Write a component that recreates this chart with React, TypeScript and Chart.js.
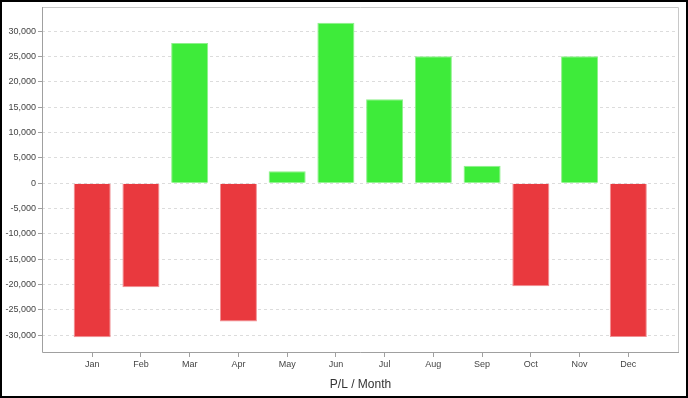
import React, { useEffect, useRef } from "react";
import { Chart, registerables } from "chart.js";

Chart.register(...registerables);

const months = ["Jan", "Feb", "Mar", "Apr", "May", "Jun", "Jul", "Aug", "Sep", "Oct", "Nov", "Dec"];
const profitLoss = [-30400, -20500, 27700, -27300, 2400, 31700, 16600, 25100, 3450, -20300, 25100, -30350];
const yTickValues = [-30000, -25000, -20000, -15000, -10000, -5000, 0, 5000, 10000, 15000, 20000, 25000, 30000];
const axisTitle = "P/L / Month";

const GREEN = "#3eeb3a";
const GREEN_EDGE = "#8ef08b";
const RED = "#e9393e";
const RED_EDGE = "#f08f92";

const plotFrame = {
  id: "plotFrame",
  afterDraw(chart: any) {
    const { ctx, chartArea } = chart;
    const { left, top, right, bottom } = chartArea;
    ctx.save();
    ctx.lineWidth = 1;
    ctx.strokeStyle = "#c8c8c8";
    ctx.beginPath();
    ctx.moveTo(left, top + 0.5);
    ctx.lineTo(right - 0.5, top + 0.5);
    ctx.lineTo(right - 0.5, bottom);
    ctx.stroke();
    ctx.strokeStyle = "#a0a0a0";
    ctx.beginPath();
    ctx.moveTo(left + 0.5, top);
    ctx.lineTo(left + 0.5, bottom - 0.5);
    ctx.lineTo(right, bottom - 0.5);
    ctx.stroke();
    ctx.restore();
  },
};

export default function App() {
  const ref = useRef<HTMLCanvasElement>(null);

  useEffect(() => {
    document.body.style.margin = "0";
    const canvas = ref.current;
    if (!canvas) return;
    const font = "'Liberation Sans', Arial, sans-serif";
    const chart = new Chart(canvas, {
      type: "bar",
      data: {
        datasets: [
          {
            data: profitLoss.map((v, i) => ({ x: i, y: v })),
            backgroundColor: profitLoss.map((v) => (v >= 0 ? GREEN : RED)),
            borderColor: profitLoss.map((v) => (v >= 0 ? GREEN_EDGE : RED_EDGE)),
            borderWidth: 1,
            borderSkipped: "start",
            barPercentage: 0.76,
            categoryPercentage: 1,
          },
        ],
      },
      options: {
        animation: false,
        responsive: false,
        maintainAspectRatio: false,
        layout: { padding: { top: 5, right: 7, left: 0, bottom: 0 } },
        plugins: {
          legend: { display: false },
          tooltip: { enabled: false },
        },
        scales: {
          x: {
            type: "linear",
            offset: false,
            min: -1.03,
            max: 12.04,
            afterBuildTicks: (scale: any) => {
              scale.ticks = months.map((_, i) => ({ value: i }));
            },
            afterFit: (scale: any) => {
              scale.height = 43;
              scale.paddingLeft = 0;
              scale.paddingRight = 0;
            },
            border: { display: false },
            grid: {
              offset: false,
              drawOnChartArea: false,
              drawTicks: true,
              tickLength: 4,
              tickColor: "#a0a0a0",
            },
            ticks: {
              autoSkip: false,
              maxRotation: 0,
              padding: 2,
              color: "#444",
              font: { family: font, size: 9 },
              callback: (v: any) => months[Math.round(Number(v))] ?? "",
            },
            title: {
              display: true,
              text: axisTitle,
              color: "#333",
              font: { family: font, size: 12 },
              padding: { top: 0, bottom: 4 },
            },
          },
          y: {
            min: -33500,
            max: 34800,
            afterBuildTicks: (scale: any) => {
              scale.ticks = yTickValues.map((v) => ({ value: v }));
            },
            afterFit: (scale: any) => {
              scale.width = 40;
              scale.paddingTop = 0;
              scale.paddingBottom = 0;
            },
            border: { display: false, dash: [3, 3] },
            grid: {
              color: "#dcdcdc",
              lineWidth: 1,
              tickLength: 4,
              tickColor: "#a0a0a0",
              tickBorderDash: [],
            },
            ticks: {
              padding: 2,
              color: "#444",
              font: { family: font, size: 9 },
              callback: (v: any) => Number(v).toLocaleString("en-US"),
            },
          },
        },
      },
      plugins: [plotFrame],
    } as any);
    return () => chart.destroy();
  }, []);

  return (
    <div
      style={{
        width: 688,
        height: 398,
        boxSizing: "border-box",
        border: "2px solid #000",
        background: "#fff",
      }}
    >
      <canvas ref={ref} width={684} height={394} style={{ display: "block", width: 684, height: 394 }} />
    </div>
  );
}
